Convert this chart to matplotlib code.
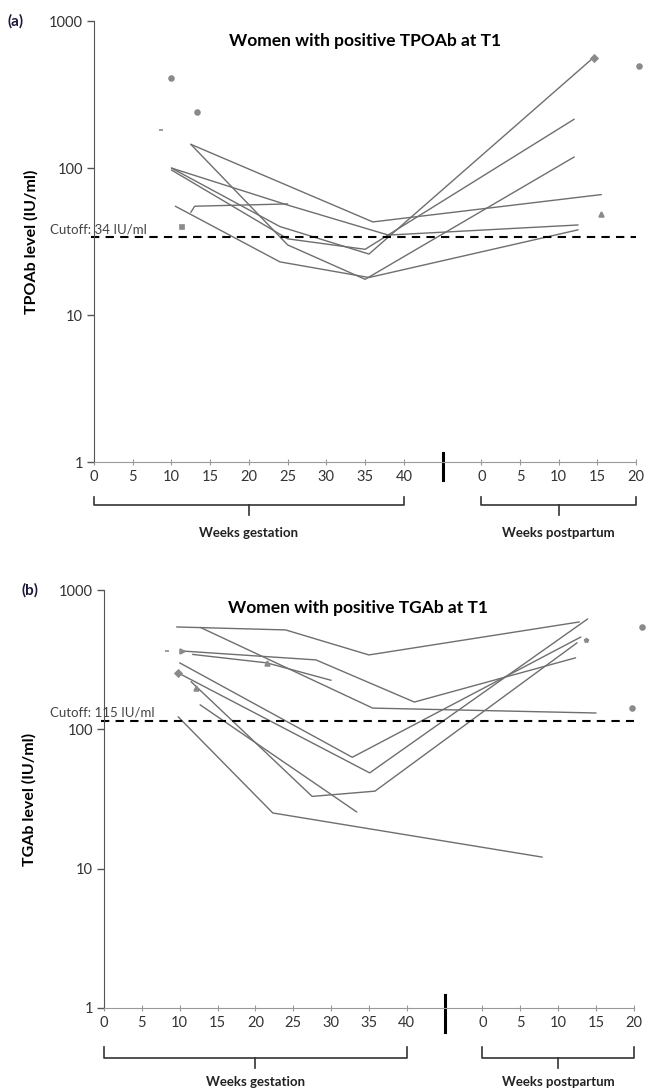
import matplotlib.pyplot as plt
from matplotlib.transforms import blended_transform_factory

plt.rcParams['font.family'] = ['Lato', 'DejaVu Sans']

PP_OFFSET = 50      # postpartum week 0 sits at x=50 on the shared axis
BREAK_X = 45        # where the gap between pregnancy and postpartum is marked
LINE_COLOR = '#6e6e6e'
MARK_COLOR = '#8a8a8a'

# (a) women with positive TPOAb at T1 -- one entry per woman
tpo_gest_weeks = [[12.5, 36], [10, 25, 38], [10, 24, 35.5], [10, 25, 35],
                  [12.5, 25, 35], [10.5, 24, 35.5], [12.5, 13, 25]]
tpo_gest_vals = [[145, 43], [100, 56, 35], [100, 40, 26], [97, 33, 28],
                 [145, 30, 17.5], [55, 23, 18], [50, 55, 57]]
tpo_pp_weeks = [15.5, 12.5, 14.5, 12, 12, 12.5, None]
tpo_pp_vals = [66, 41, 565, 215, 119, 38, None]

# single measurements of TPOAb
tpo_single_weeks = [9.9, 13.3, 8.7, 11.4]
tpo_single_vals = [410, 240, 181, 40]
tpo_single_marks = ['o', 'o', '_', 's']
tpo_single_pp_weeks = [14.5, 20.3, 15.4]
tpo_single_pp_vals = [565, 494, 49]
tpo_single_pp_marks = ['D', 'o', '^']

# (b) women with positive TGAb at T1
tg_gest_weeks = [[9.6, 24, 35], [10.3, 28, 41], [12.7, 35.5], [10, 32.8],
                 [9.8, 35.1], [11.5, 27.5, 35.8], [12.7, 33.4], [9.8, 22.3],
                 [11.7, 21.5, 30]]
tg_gest_vals = [[543, 517, 342], [365, 315, 157], [540, 142], [300, 63],
                [254, 48.7], [220, 33, 36], [150, 25.5], [123, 25.1],
                [345, 300, 225]]
tg_pp_weeks = [12.8, 12.3, 15, 13, 13.9, 12.5, None, 7.9, None]
tg_pp_vals = [590, 326, 131, 460, 620, 418, None, 12.1, None]

tg_single_weeks = [8.3, 10.3, 21.5, 9.8, 12.2]
tg_single_vals = [365, 365, 300, 254, 198]
tg_single_marks = ['_', '>', '^', 'D', '^']
tg_single_pp_weeks = [13.7, 21.1, 19.7]
tg_single_pp_vals = [437, 543, 142]
tg_single_pp_marks = ['*', 'o', 'o']

gest_ticks = [0, 5, 10, 15, 20, 25, 30, 35, 40]
pp_ticks = [0, 5, 10, 15, 20]

tpo_cutoff = 34
tg_cutoff = 115


def draw_panel(fig, ax, gw, gv, pw, pv, sw, sv, sm, spw, spv, spm, cutoff,
               cutoff_text, cutoff_pos, title, title_x, ylabel, ylabel_x,
               letter, letter_x, brk, brackets):
    # each woman's series: gestation points then the postpartum point
    for weeks, vals, p_w, p_v in zip(gw, gv, pw, pv):
        xs = list(weeks)
        ys = list(vals)
        if p_w is not None:
            xs.append(PP_OFFSET + p_w)
            ys.append(p_v)
        ax.plot(xs, ys, color=LINE_COLOR, lw=1.0, solid_capstyle='round')

    for x, y, m in zip(sw, sv, sm):
        ax.plot(x, y, marker=m, color=MARK_COLOR, ms=3.5, mew=1.2,
                clip_on=False)
    for x, y, m in zip(spw, spv, spm):
        ax.plot(PP_OFFSET + x, y, marker=m, color=MARK_COLOR, ms=3.5,
                mew=1.2, clip_on=False)

    ax.axhline(cutoff, color='black', lw=1.5, ls=(0, (4, 3)),
               xmin=-0.005, clip_on=False)

    ax.set_yscale('log')
    ax.set_ylim(1, 1000)
    ax.set_xlim(0, 70)
    ax.set_yticks([1, 10, 100, 1000])
    ax.set_yticklabels(['1', '10', '100', '1000'])
    ax.yaxis.set_minor_locator(plt.NullLocator())
    ax.set_xticks(gest_ticks + [PP_OFFSET + t for t in pp_ticks])
    ax.set_xticklabels([str(t) for t in gest_ticks] + [str(t) for t in pp_ticks])

    for side in ('top', 'right'):
        ax.spines[side].set_visible(False)
    ax.spines['left'].set_color('#555555')
    ax.spines['bottom'].set_color('#999999')
    ax.tick_params(axis='y', direction='out', length=5, width=1,
                   color='#555555', labelsize=10.5, labelcolor='#333333', pad=3)
    ax.tick_params(axis='x', direction='inout', length=4, width=0.8,
                   color='#999999', labelsize=10.5, labelcolor='#333333', pad=4)

    ax.set_title(title, fontsize=12.5, fontweight='bold', x=title_x, y=0.925)
    ax.set_ylabel(ylabel, fontsize=11.5, fontweight='bold')
    ax.yaxis.set_label_coords(ylabel_x, 0.5)

    # cutoff note and panel letter sit left of the axis, in figure x
    tr = blended_transform_factory(fig.transFigure, ax.transData)
    ax.text(cutoff_pos[0], cutoff_pos[1], cutoff_text, transform=tr,
            fontsize=9.5, color='#444444', va='center', ha='left')
    ax.text(letter_x, 1000, letter, transform=tr, fontsize=11,
            fontweight='bold', color='#1a1a3a', va='center', ha='left')

    # break between pregnancy and postpartum
    bt = blended_transform_factory(ax.transData, ax.transAxes)
    ax.plot([BREAK_X, BREAK_X], brk, color='black', lw=2.2,
            transform=bt, clip_on=False)

    # braces under the two halves of the time axis
    top, mid, tip, label_y = brackets
    for x0, x1, text in ((0, 40, 'Weeks gestation'),
                         (PP_OFFSET, PP_OFFSET + 20, 'Weeks postpartum')):
        xc = (x0 + x1) / 2
        ax.plot([x0, x0, x1, x1], [top, mid, mid, top], color='#333333',
                lw=1.2, transform=bt, clip_on=False)
        ax.plot([xc, xc], [mid, tip], color='#333333', lw=1.2,
                transform=bt, clip_on=False)
        ax.text(xc, label_y, text, transform=bt, fontsize=9.5,
                fontweight='bold', color='#222222', ha='center', va='center')


fig = plt.figure(figsize=(6.47, 10.91), dpi=100)

ax_a = fig.add_axes([0.1453, 0.5765, 0.838, 0.4042])
draw_panel(fig, ax_a, tpo_gest_weeks, tpo_gest_vals, tpo_pp_weeks, tpo_pp_vals,
           tpo_single_weeks, tpo_single_vals, tpo_single_marks,
           tpo_single_pp_weeks, tpo_single_pp_vals, tpo_single_pp_marks,
           tpo_cutoff, 'Cutoff: 34 IU/ml', (0.077, 38),
           'Women with positive TPOAb at T1', 0.5,
           'TPOAb level (IU/ml)', -0.103, '(a)', 0.012,
           (0.02, -0.041), (-0.079, -0.0975, -0.12, -0.161))

ax_b = fig.add_axes([0.1607, 0.0761, 0.819, 0.3831])
draw_panel(fig, ax_b, tg_gest_weeks, tg_gest_vals, tg_pp_weeks, tg_pp_vals,
           tg_single_weeks, tg_single_vals, tg_single_marks,
           tg_single_pp_weeks, tg_single_pp_vals, tg_single_pp_marks,
           tg_cutoff, 'Cutoff: 115 IU/ml', (0.077, 131),
           'Women with positive TGAb at T1', 0.48,
           'TGAb level (IU/ml)', -0.128, '(b)', 0.033,
           (0.031, -0.057), (-0.093, -0.12, -0.144, -0.177))

fig.savefig('out.png', dpi=100)
